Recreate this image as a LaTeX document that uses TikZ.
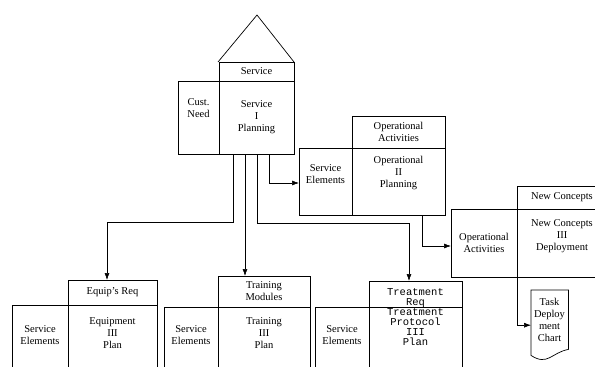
\documentclass[tikz,border=0pt]{standalone}
\usepackage{fontspec}
\setmainfont{Liberation Serif}
\setmonofont{Liberation Mono}
\usetikzlibrary{arrows.meta,calc}
\tikzset{
  bx/.style={draw, line width=0.7pt, inner sep=0pt, outer sep=0pt, anchor=north west, align=center,
             font=\fontsize{10.5}{12}\selectfont},
  txt/.style={inner sep=0pt, align=center, font=\fontsize{10.5}{12}\selectfont},
  mono/.style={inner sep=0pt, align=center, font=\ttfamily\fontsize{10.5}{9.8}\selectfont},
  arr/.style={draw, line width=0.6pt, -{Latex[length=7pt,width=5pt]}},
  ln/.style={draw, line width=0.7pt}
}
\begin{document}
\begin{tikzpicture}[x=1pt,y=-1pt]
\useasboundingbox (0,0) rectangle (595,367);
\clip (0,0) rectangle (595,367);
\fill[white] (0,0) rectangle (595,367);

% Service (I)
\node[bx, minimum width=75pt, minimum height=19pt] (svchead) at (219,62) {Service};
\node[bx, minimum width=41pt, minimum height=73pt] (cust) at (178,81) {Cust.\\Need\\[6pt]};
\node[bx, minimum width=75pt, minimum height=73pt] (svc) at (219,81) {Service\\I\\Planning};
\coordinate (apex) at (257,15);
\draw[ln] ($(svchead.north west)+(-1,0)$) -- (apex) -- (svchead.north east);

% Operational (II)
\node[bx, minimum width=93pt, minimum height=32pt] (ophead) at (352,116) {Operational\\Activities};
\node[bx, minimum width=53pt, minimum height=67pt] (opse) at (299,148) {Service\\Elements\\[2pt]};
\node[bx, minimum width=93pt, minimum height=67pt] (op) at (352,148) {Operational\\II\\Planning\\[8pt]};

% New Concepts (III)
\node[bx, minimum width=90pt, minimum height=23pt] (nchead) at (517,186) {New Concepts};
\node[bx, minimum width=66pt, minimum height=68pt] (oa) at (451,209) {Operational\\Activities};
\node[bx, minimum width=90pt, minimum height=68pt] (nc) at (517,209) {New Concepts\\III\\Deployment\\[4pt]};

% Task deployment chart
\node[inner sep=0pt, minimum width=37pt, minimum height=64pt, anchor=north west] (task) at (531,290) {};
\draw[ln] (task.north west) -- (task.north east) -- ($(task.south east)+(0,-5)$)
  .. controls ($(task.south)+(2,-2)$) and ($(task.south)+(-2,12)$) .. ($(task.south west)+(0,1)$) -- cycle;
\node[txt] (tasktxt) at (549.5,320) {Task\\Deploy\\ment\\Chart};

% Equipment (III)
\node[bx, minimum width=89pt, minimum height=25pt] (eqhead) at (68,280) {Equip's Req};
\node[bx, minimum width=56pt, minimum height=80pt] (eqse) at (12,305) {};
\node[bx, minimum width=89pt, minimum height=80pt] (eq) at (68,305) {};
\node[txt] (eqsetxt) at (40,335) {Service\\Elements};
\node[txt] (eqtxt) at (112.5,333) {Equipment\\III\\Plan};

% Training (III)
\node[bx, minimum width=92pt, minimum height=31pt] (trhead) at (218,276) {Training\\Modules};
\node[bx, minimum width=54pt, minimum height=80pt] (trse) at (164,307) {};
\node[bx, minimum width=92pt, minimum height=80pt] (tr) at (218,307) {};
\node[txt] (trsetxt) at (191,335) {Service\\Elements};
\node[txt] (trtxt) at (264,333) {Training\\III\\Plan};

% Treatment (III)
\node[bx, minimum width=93pt, minimum height=26pt] (tmhead) at (369,281) {};
\node[bx, minimum width=54pt, minimum height=80pt] (tmse) at (315,307) {};
\node[bx, minimum width=93pt, minimum height=80pt] (tm) at (369,307) {};
\node[mono] (tmheadtxt) at (415.5,298) {Treatment\\Req};
\node[mono] (tmtxt) at (415.5,327) {Treatment\\Protocol\\III\\Plan};
\node[txt] (tmsetxt) at (342,335) {Service\\Elements};

% connectors
\draw[arr] ($(svc.south west)+(14,0)$) -- ++(0,68) -| ($(eqhead.north west)+(39,0)$);
\draw[arr] ($(svc.south west)+(26,0)$) -- ($(trhead.north west)+(27,0)$);
\draw[arr] ($(svc.south west)+(38,0)$) -- ++(0,69) -| ($(tmhead.north west)+(40,0)$);
\draw[arr] ($(svc.south west)+(50,0)$) |- ($(opse.west)+(0,1.5)$);
\draw[arr] ($(op.south west)+(70,0)$) |- ($(oa.west)+(0,3)$);
\draw[arr] (nc.south west) |- ($(task.west)+(0,3)$);
\end{tikzpicture}
\end{document}
